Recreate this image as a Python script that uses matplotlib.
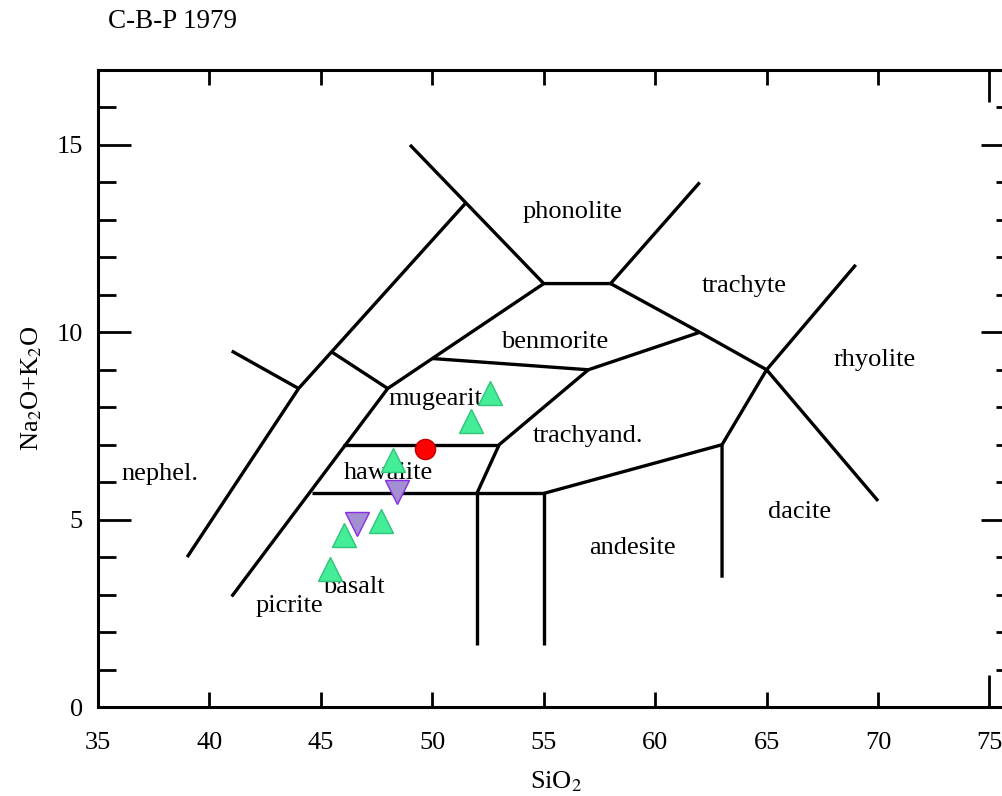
import numpy as np
import matplotlib
matplotlib.use("Agg")
import matplotlib.pyplot as plt
from matplotlib.ticker import FixedLocator, NullFormatter

plt.rcParams["font.family"] = ["Liberation Serif", "DejaVu Serif"]
plt.rcParams["mathtext.fontset"] = "stix"

# TAS field boundaries (SiO2, Na2O+K2O), Cox-Bell-Pank 1979
nephel_top_x = [41, 44]
nephel_top_y = [9.5, 8.5]
nephel_right_x = [39, 44, 51.5]
nephel_right_y = [4, 8.5, 13.45]
phonolite_x = [49, 55, 58, 62]
phonolite_y = [15, 11.3, 11.3, 14]
mugearite_top_x = [45.5, 48]
mugearite_top_y = [9.47, 8.5]
basalt_left_x = [41, 48, 55]
basalt_left_y = [2.95, 8.5, 11.3]
benmorite_low_x = [50, 57, 62]
benmorite_low_y = [9.3, 9, 10]
trachyte_low_x = [58, 62, 65]
trachyte_low_y = [11.3, 10, 9]
rhyolite_up_x = [63, 65, 69]
rhyolite_up_y = [7, 9, 11.8]
rhyolite_low_x = [65, 70]
rhyolite_low_y = [9, 5.5]
dacite_x = [55, 63, 63]
dacite_y = [5.7, 7, 3.45]
hawaiite_low_x = [44.6, 55]
hawaiite_low_y = [5.7, 5.7]
hawaiite_top_x = [46, 53]
hawaiite_top_y = [7, 7]
trachyand_x = [52, 53, 57]
trachyand_y = [5.7, 7, 9]
vert52_x = [52, 52]
vert52_y = [1.65, 5.7]
vert55_x = [55, 55]
vert55_y = [1.65, 5.7]

# field names
field_names = ["phonolite", "trachyte", "benmorite", "rhyolite", "mugearite",
               "trachyand.", "hawaiite", "nephel.", "dacite", "andesite",
               "basalt", "picrite"]
field_x = [56.3, 64.0, 55.5, 69.85, 50.4, 57.0, 48.05, 37.8, 66.5, 59.0, 46.5, 43.6]
field_y = [13.22, 11.23, 9.73, 9.25, 8.21, 7.23, 6.24, 6.21, 5.2, 4.24, 3.2, 2.69]

# samples
tri_up_x = [52.6, 51.75, 48.25, 47.7, 46.05, 45.4]
tri_up_y = [8.37, 7.63, 6.58, 4.96, 4.58, 3.67]
tri_down_x = [48.4, 46.6]
tri_down_y = [5.74, 4.88]
circle_x = [49.65]
circle_y = [6.88]

fig = plt.figure(figsize=(10.03, 7.96), dpi=100)
ax = fig.add_axes([98 / 1003, 89 / 796, 916 / 1003, 637 / 796])

lines = [
    (nephel_top_x, nephel_top_y), (nephel_right_x, nephel_right_y),
    (phonolite_x, phonolite_y), (mugearite_top_x, mugearite_top_y),
    (basalt_left_x, basalt_left_y), (benmorite_low_x, benmorite_low_y),
    (trachyte_low_x, trachyte_low_y), (rhyolite_up_x, rhyolite_up_y),
    (rhyolite_low_x, rhyolite_low_y), (dacite_x, dacite_y),
    (hawaiite_low_x, hawaiite_low_y), (hawaiite_top_x, hawaiite_top_y),
    (trachyand_x, trachyand_y), (vert52_x, vert52_y), (vert55_x, vert55_y),
]
for xs, ys in lines:
    ax.plot(xs, ys, color="black", lw=2.4, solid_capstyle="butt", zorder=2)

for name, x, y in zip(field_names, field_x, field_y):
    ax.text(x, y, name, fontsize=19, ha="center", va="center", zorder=3)

ax.plot(tri_up_x, tri_up_y, "^", ms=17, mfc="#44EE99", mec="#2FC47A", mew=1, ls="none", zorder=5)
ax.plot(tri_down_x, tri_down_y, "v", ms=17, mfc="#A390D2", mec="#8A2BE2", mew=1, ls="none", zorder=5)
ax.plot(circle_x, circle_y, "o", ms=14.5, mfc="#FF0000", mec="#C00000", mew=1, ls="none", zorder=5)

ax.set_xlim(35, 76.1)
ax.set_ylim(0, 17)

ax.xaxis.set_major_locator(FixedLocator([35, 75]))
ax.xaxis.set_minor_locator(FixedLocator([40, 45, 50, 55, 60, 65, 70]))
ax.xaxis.set_minor_formatter(plt.FuncFormatter(lambda v, p: f"{v:g}"))
ax.yaxis.set_major_locator(FixedLocator([0, 5, 10, 15]))
ax.yaxis.set_minor_locator(FixedLocator([v for v in range(1, 17) if v % 5]))
ax.yaxis.set_minor_formatter(NullFormatter())

ax.tick_params(axis="x", which="both", direction="in", top=True, bottom=True,
               width=2, labelsize=19, pad=18)
ax.tick_params(axis="x", which="major", length=23)
ax.tick_params(axis="x", which="minor", length=11)
ax.tick_params(axis="y", which="both", direction="in", left=True, right=True,
               width=2, labelsize=19, pad=11)
ax.tick_params(axis="y", which="major", length=24)
ax.tick_params(axis="y", which="minor", length=13)

for sp in ax.spines.values():
    sp.set_linewidth(2.2)

ax.set_xlabel(r"SiO$_2$", fontsize=19, labelpad=11)
ax.set_ylabel(r"Na$_2$O+K$_2$O", fontsize=19, labelpad=9)

fig.text(108 / 1003, 1 - 22 / 796, "C-B-P 1979", fontsize=19.5, ha="left", va="center")

fig.savefig("out.png", dpi=100)
